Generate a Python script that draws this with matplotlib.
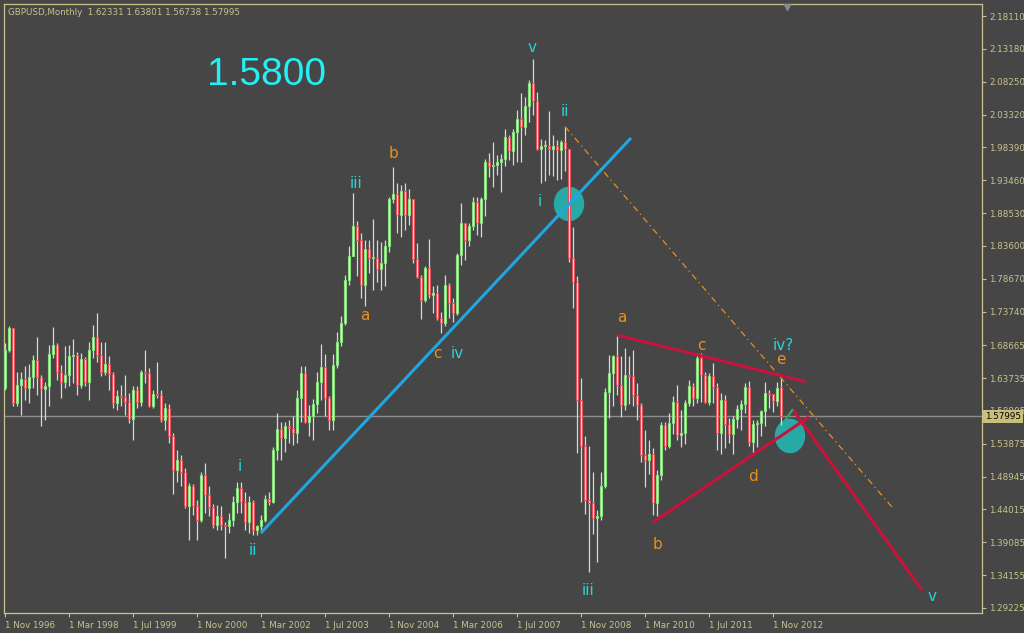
import matplotlib
matplotlib.use('Agg')

import numpy as np
import pandas as pd
import matplotlib.pyplot as plt
from matplotlib.patches import Ellipse
from matplotlib.transforms import blended_transform_factory

# GBPUSD monthly bars, Nov 1996 .. Jan 2013
first_open = 1.622
closes = [
    1.680, 1.712, 1.600, 1.627, 1.636, 1.622, 1.639, 1.664, 1.639, 1.621, 1.626, 1.674,
    1.687, 1.647, 1.632, 1.642, 1.671, 1.672, 1.627, 1.666, 1.631, 1.680, 1.699, 1.672,
    1.646, 1.659, 1.644, 1.600, 1.611, 1.609, 1.601, 1.576, 1.620, 1.602, 1.646, 1.645,
    1.596, 1.613, 1.612, 1.575, 1.592, 1.550, 1.500, 1.515, 1.497, 1.445, 1.475, 1.445,
    1.424, 1.492, 1.462, 1.444, 1.417, 1.431, 1.417, 1.415, 1.424, 1.452, 1.472, 1.452,
    1.422, 1.452, 1.410, 1.416, 1.425, 1.456, 1.451, 1.529, 1.561, 1.547, 1.566, 1.563,
    1.555, 1.607, 1.645, 1.571, 1.580, 1.599, 1.632, 1.654, 1.607, 1.575, 1.657, 1.692,
    1.720, 1.785, 1.821, 1.866, 1.845, 1.777, 1.831, 1.817, 1.818, 1.801, 1.810, 1.836,
    1.907, 1.914, 1.882, 1.919, 1.882, 1.907, 1.816, 1.789, 1.755, 1.802, 1.762, 1.765,
    1.727, 1.720, 1.777, 1.750, 1.735, 1.822, 1.870, 1.845, 1.866, 1.902, 1.870, 1.907,
    1.962, 1.956, 1.957, 1.962, 1.967, 1.999, 1.979, 2.007, 2.027, 2.015, 2.046, 2.080,
    2.054, 1.981, 1.986, 1.986, 1.982, 1.986, 1.980, 1.992, 1.981, 1.817, 1.782, 1.605,
    1.535, 1.455, 1.450, 1.428, 1.430, 1.475, 1.617, 1.645, 1.670, 1.627, 1.597, 1.642,
    1.640, 1.612, 1.597, 1.522, 1.514, 1.524, 1.450, 1.492, 1.567, 1.535, 1.570, 1.602,
    1.552, 1.555, 1.600, 1.625, 1.607, 1.667, 1.642, 1.602, 1.640, 1.624, 1.555, 1.604,
    1.568, 1.554, 1.576, 1.591, 1.599, 1.624, 1.542, 1.568, 1.570, 1.588, 1.615, 1.613,
    1.603, 1.623, 1.57995,
]
highs = [
    1.690, 1.716, 1.711, 1.647, 1.647, 1.655, 1.659, 1.672, 1.699, 1.642, 1.632, 1.687,
    1.714, 1.690, 1.657, 1.685, 1.687, 1.696, 1.677, 1.675, 1.669, 1.691, 1.717, 1.735,
    1.692, 1.692, 1.670, 1.647, 1.620, 1.627, 1.642, 1.615, 1.625, 1.626, 1.650, 1.679,
    1.652, 1.620, 1.662, 1.620, 1.600, 1.599, 1.555, 1.530, 1.522, 1.502, 1.480, 1.479,
    1.455, 1.497, 1.510, 1.475, 1.449, 1.447, 1.445, 1.422, 1.435, 1.460, 1.482, 1.482,
    1.466, 1.461, 1.455, 1.417, 1.432, 1.462, 1.467, 1.534, 1.585, 1.572, 1.572, 1.574,
    1.580, 1.620, 1.655, 1.655, 1.597, 1.606, 1.646, 1.689, 1.674, 1.610, 1.674, 1.707,
    1.730, 1.792, 1.835, 1.915, 1.874, 1.855, 1.845, 1.845, 1.876, 1.845, 1.842, 1.845,
    1.910, 1.955, 1.930, 1.927, 1.931, 1.922, 1.907, 1.840, 1.792, 1.805, 1.847, 1.775,
    1.777, 1.737, 1.792, 1.780, 1.757, 1.825, 1.901, 1.869, 1.871, 1.910, 1.909, 1.910,
    1.967, 1.975, 1.992, 1.972, 1.974, 2.012, 2.002, 2.012, 2.040, 2.065, 2.060, 2.085,
    2.116, 2.067, 1.996, 1.995, 2.039, 2.002, 1.995, 1.995, 2.015, 1.982, 1.865, 1.790,
    1.637, 1.550, 1.535, 1.497, 1.439, 1.497, 1.622, 1.672, 1.672, 1.702, 1.670, 1.682,
    1.670, 1.680, 1.630, 1.600, 1.560, 1.545, 1.532, 1.499, 1.572, 1.572, 1.585, 1.610,
    1.627, 1.590, 1.605, 1.635, 1.630, 1.675, 1.675, 1.647, 1.645, 1.660, 1.630, 1.615,
    1.612, 1.577, 1.580, 1.597, 1.604, 1.630, 1.633, 1.575, 1.575, 1.590, 1.631, 1.620,
    1.612, 1.631, 1.63801,
]
lows = [
    1.620, 1.677, 1.595, 1.595, 1.582, 1.605, 1.600, 1.622, 1.612, 1.565, 1.575, 1.595,
    1.667, 1.635, 1.607, 1.622, 1.625, 1.630, 1.612, 1.622, 1.625, 1.605, 1.667, 1.662,
    1.640, 1.642, 1.620, 1.592, 1.590, 1.595, 1.582, 1.570, 1.545, 1.592, 1.595, 1.630,
    1.594, 1.592, 1.607, 1.572, 1.559, 1.540, 1.464, 1.482, 1.475, 1.442, 1.394, 1.432,
    1.395, 1.421, 1.435, 1.430, 1.412, 1.410, 1.410, 1.368, 1.405, 1.415, 1.435, 1.435,
    1.410, 1.405, 1.402, 1.402, 1.405, 1.421, 1.447, 1.450, 1.515, 1.515, 1.526, 1.540,
    1.537, 1.540, 1.572, 1.570, 1.551, 1.545, 1.585, 1.605, 1.580, 1.559, 1.559, 1.652,
    1.685, 1.717, 1.777, 1.820, 1.790, 1.757, 1.745, 1.795, 1.770, 1.782, 1.770, 1.775,
    1.827, 1.900, 1.855, 1.850, 1.860, 1.867, 1.810, 1.787, 1.726, 1.752, 1.757, 1.735,
    1.725, 1.705, 1.715, 1.727, 1.722, 1.732, 1.807, 1.815, 1.835, 1.860, 1.852, 1.850,
    1.881, 1.940, 1.925, 1.942, 1.917, 1.956, 1.965, 1.957, 1.962, 1.962, 2.002, 2.022,
    2.032, 1.980, 1.931, 1.934, 1.942, 1.941, 1.935, 1.937, 1.949, 1.812, 1.742, 1.525,
    1.452, 1.434, 1.347, 1.403, 1.362, 1.424, 1.472, 1.577, 1.596, 1.612, 1.579, 1.589,
    1.599, 1.595, 1.574, 1.512, 1.474, 1.494, 1.432, 1.430, 1.484, 1.529, 1.532, 1.554,
    1.544, 1.534, 1.539, 1.595, 1.595, 1.600, 1.602, 1.600, 1.597, 1.600, 1.529, 1.524,
    1.533, 1.540, 1.523, 1.562, 1.560, 1.585, 1.536, 1.525, 1.534, 1.550, 1.565, 1.593,
    1.587, 1.596, 1.56738,
]

# price axis labels as printed by the terminal
price_ticks = [2.18110, 2.13180, 2.08250, 2.03320, 1.98390, 1.93460, 1.88530, 1.83600,
               1.78670, 1.73740, 1.68665, 1.63735, 1.58805, 1.53875, 1.48945, 1.44015,
               1.39085, 1.34155, 1.29225]
last_price = 1.57995

# wave count drawn on the chart: (bar, price)
trend_line = [(64.0, 1.405), (156.5, 1.998)]
fan_line = [(140.0, 2.015), (222.0, 1.442)]
tri_upper = [(153.0, 1.702), (200.25, 1.632)]
tri_lower = [(162.0, 1.421), (201.0, 1.579)]
target_line = [(197.0, 1.590), (229.25, 1.319)]
kick_line = [(195.0, 1.574), (197.0, 1.591)]
spots = [(141.0, 1.899), (196.25, 1.5505)]
cyan_labels = [("v", 131.75, 2.134), ("ii", 140.0, 2.038), ("iii", 87.75, 1.929),
               ("i", 133.75, 1.902), ("iv", 113.0, 1.675), ("i", 58.75, 1.505),
               ("ii", 62.0, 1.378), ("iii", 145.75, 1.319), ("iv?", 194.5, 1.687),
               ("v", 231.75, 1.309)]
orange_labels = [("b", 97.0, 1.975), ("a", 90.0, 1.731), ("c", 108.0, 1.674),
                 ("a", 154.25, 1.728), ("c", 174.0, 1.687), ("e", 194.0, 1.666),
                 ("b", 163.0, 1.388), ("d", 187.0, 1.489)]

BG = '#464646'
FG = '#c8c38c'

closes = np.array(closes)
highs = np.array(highs)
lows = np.array(lows)
opens = np.r_[first_open, closes[:-1]]
opens[-1] = 1.62331
n = len(closes)
x = np.arange(n)
dates = pd.date_range('1996-11-01', periods=n, freq='MS')

fig = plt.figure(figsize=(10.24, 6.33), dpi=100, facecolor=BG)
ax = fig.add_axes([4/1024, (633-612.7)/633, 978/1024, 608.7/633], facecolor=BG)
ax.set_xlim(-0.25, 244.25)
ax.set_ylim(1.28514, 2.19912)

# current price line
ax.axhline(last_price, color='#8e8e8e', lw=1, zorder=1)

# highlighted spots
for sx, sy in spots:
    ax.add_patch(Ellipse((sx, sy), 7.6, 0.052, facecolor='#27aaa6', edgecolor='none', zorder=2))

# candles
up = closes >= opens
ax.vlines(x, lows, highs, color='#d8d8d8', lw=0.9, zorder=3)
body_lo = np.minimum(opens, closes)
body_h = np.maximum(np.abs(closes - opens), 0.0015)
ax.bar(x[up], body_h[up], bottom=body_lo[up], width=0.62, facecolor='#e4f4e0',
       edgecolor='#86e07c', lw=0.8, zorder=4)
ax.bar(x[~up], body_h[~up], bottom=body_lo[~up], width=0.62, facecolor='#f4e0e0',
       edgecolor='#e2505a', lw=0.8, zorder=4)

# drawn lines
def seg(pts, **kw):
    (x0, y0), (x1, y1) = pts
    ax.plot([x0, x1], [y0, y1], solid_capstyle='butt', **kw)

seg(trend_line, color='#21a6e4', lw=2.2, zorder=5)
seg(fan_line, color='#e8901e', lw=0.9, ls=(0, (5, 3, 1, 3)), zorder=5)
seg(tri_upper, color='#c8143c', lw=2.2, zorder=5)
seg(tri_lower, color='#c8143c', lw=2.2, zorder=5)
seg(target_line, color='#c8143c', lw=2.2, zorder=5)
seg(kick_line, color='#3aa860', lw=1.5, zorder=5)

for txt, lx, ly in cyan_labels:
    ax.text(lx, ly, txt, color='#28d4d8', fontsize=11, ha='center', va='center', zorder=6)
for txt, lx, ly in orange_labels:
    ax.text(lx, ly, txt, color='#e8901e', fontsize=11, ha='center', va='center', zorder=6)

ax.text(65.5, 2.0926, '1.5800', color='#22f0f4', fontsize=28, family='Liberation Sans',
        ha='center', va='center', zorder=6)
ax.text(0.004, 0.994, 'GBPUSD,Monthly  1.62331 1.63801 1.56738 1.57995', color=FG,
        fontsize=6.3, transform=ax.transAxes, ha='left', va='top')
ax.plot([195.5], [2.1945], marker='v', color='#8a8a8a', ms=5, clip_on=False, zorder=6)

# axes
for sp in ax.spines.values():
    sp.set_color(FG)
    sp.set_linewidth(0.9)
ax.yaxis.tick_right()
ax.set_yticks(price_ticks)
ax.set_yticklabels([f'{v:.5f}' for v in price_ticks])
tick_pos = x[::16]
ax.set_xticks(tick_pos)
ax.set_xticklabels([f'{d.day} {d:%b %Y}' for d in dates[tick_pos]])
ax.tick_params(axis='both', colors=FG, labelsize=6.3, length=3, width=0.8, direction='out')
ax.tick_params(axis='y', pad=2)
ax.tick_params(axis='x', pad=3)
for lbl in ax.get_xticklabels():
    lbl.set_ha('left')

# current price tag on the scale
tr = blended_transform_factory(ax.transAxes, ax.transData)
ax.text(1.003, last_price, f'{last_price:.5f}', transform=tr, color='black', fontsize=6.3,
        ha='left', va='center', zorder=10, clip_on=False,
        bbox=dict(facecolor='#c8c07a', edgecolor='none', pad=1.6))

fig.savefig('out.png', dpi=100, facecolor=BG)
